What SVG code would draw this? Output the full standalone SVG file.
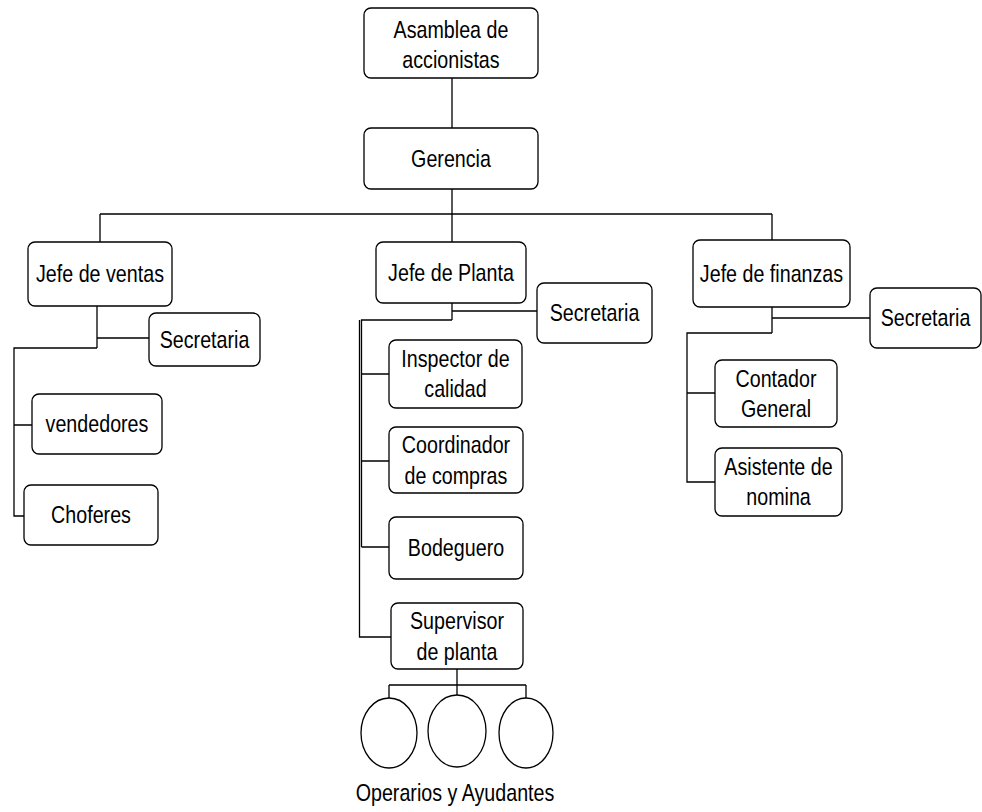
<svg xmlns="http://www.w3.org/2000/svg" width="982" height="812" viewBox="0 0 982 812">
<style>
rect.n{fill:#fff;stroke:#000;stroke-width:1.3}
ellipse.n{fill:#fff;stroke:#000;stroke-width:1.3}
#connectors path{fill:none;stroke:#000;stroke-width:1.3}
text{font-family:"Liberation Sans",Arial,sans-serif;font-size:24px;fill:#000;text-anchor:middle}
</style>
<rect width="982" height="812" fill="#fff"/>
<g id="connectors">
<path d="M452,78V128M452,189V242M100,214H772M100,214V242M772,214V240"/>
<path d="M97,306V348M97,338H149M97,348H14V516H24M14,425H32"/>
<path d="M452,303V320M452,311H537M452,320H361.5V547M361.5,374H389M361.5,461H389M361.5,547H389M359.5,320V637H391"/>
<path d="M457,669V685M389,685H526M389,685V698M457,685V696M526,685V698"/>
<path d="M772,307V333M772,318H870M772,333H687V482H715M687,393H715"/>
</g>
<g id="asamblea"><rect class="n" x="364" y="8" width="174" height="70" rx="7"/><text transform="translate(451,38) scale(0.82,1)"><tspan x="0">Asamblea de</tspan><tspan x="0" dy="30">accionistas</tspan></text></g>
<g id="gerencia"><rect class="n" x="364" y="128" width="174" height="61" rx="7"/><text transform="translate(451,167) scale(0.82,1)">Gerencia</text></g>
<g id="jefe-ventas"><rect class="n" x="28" y="242" width="144" height="64" rx="7"/><text transform="translate(100,282) scale(0.82,1)">Jefe de ventas</text></g>
<g id="secretaria-ventas"><rect class="n" x="149" y="313" width="111" height="53" rx="7"/><text transform="translate(204.5,348) scale(0.82,1)">Secretaria</text></g>
<g id="vendedores"><rect class="n" x="32" y="394" width="130" height="60" rx="7"/><text transform="translate(97,432) scale(0.82,1)">vendedores</text></g>
<g id="choferes"><rect class="n" x="24" y="485" width="134" height="60" rx="7"/><text transform="translate(91,523) scale(0.82,1)">Choferes</text></g>
<g id="jefe-planta"><rect class="n" x="376" y="242" width="150" height="61" rx="7"/><text transform="translate(451,281) scale(0.82,1)">Jefe de Planta</text></g>
<g id="secretaria-planta"><rect class="n" x="537" y="283" width="115" height="60" rx="7"/><text transform="translate(594.5,321) scale(0.82,1)">Secretaria</text></g>
<g id="inspector"><rect class="n" x="389" y="340" width="133" height="68" rx="7"/><text transform="translate(455.5,367) scale(0.82,1)"><tspan x="0">Inspector de</tspan><tspan x="0" dy="30">calidad</tspan></text></g>
<g id="coordinador"><rect class="n" x="389" y="427" width="134" height="66" rx="7"/><text transform="translate(456,453) scale(0.82,1)"><tspan x="0">Coordinador</tspan><tspan x="0" dy="31">de compras</tspan></text></g>
<g id="bodeguero"><rect class="n" x="389" y="517" width="134" height="62" rx="7"/><text transform="translate(456,556) scale(0.82,1)">Bodeguero</text></g>
<g id="supervisor"><rect class="n" x="391" y="603" width="132" height="66" rx="7"/><text transform="translate(457,629) scale(0.82,1)"><tspan x="0">Supervisor</tspan><tspan x="0" dy="31">de planta</tspan></text></g>
<g id="jefe-finanzas"><rect class="n" x="693" y="240" width="157" height="67" rx="7"/><text transform="translate(771.5,282) scale(0.82,1)">Jefe de finanzas</text></g>
<g id="secretaria-finanzas"><rect class="n" x="870" y="288" width="111" height="60" rx="7"/><text transform="translate(925.5,326) scale(0.82,1)">Secretaria</text></g>
<g id="contador"><rect class="n" x="715" y="360" width="122" height="67" rx="7"/><text transform="translate(776,387) scale(0.82,1)"><tspan x="0">Contador</tspan><tspan x="0" dy="30">General</tspan></text></g>
<g id="asistente"><rect class="n" x="715" y="448" width="127" height="68" rx="7"/><text transform="translate(778.5,475) scale(0.82,1)"><tspan x="0">Asistente de</tspan><tspan x="0" dy="30">nomina</tspan></text></g>
<g id="operarios">
<ellipse class="n" cx="389" cy="733" rx="28" ry="35"/>
<ellipse class="n" cx="457" cy="731" rx="29" ry="36"/>
<ellipse class="n" cx="526" cy="733" rx="27" ry="35"/>
<text transform="translate(455,801) scale(0.82,1)">Operarios y Ayudantes</text>
</g>
</svg>
